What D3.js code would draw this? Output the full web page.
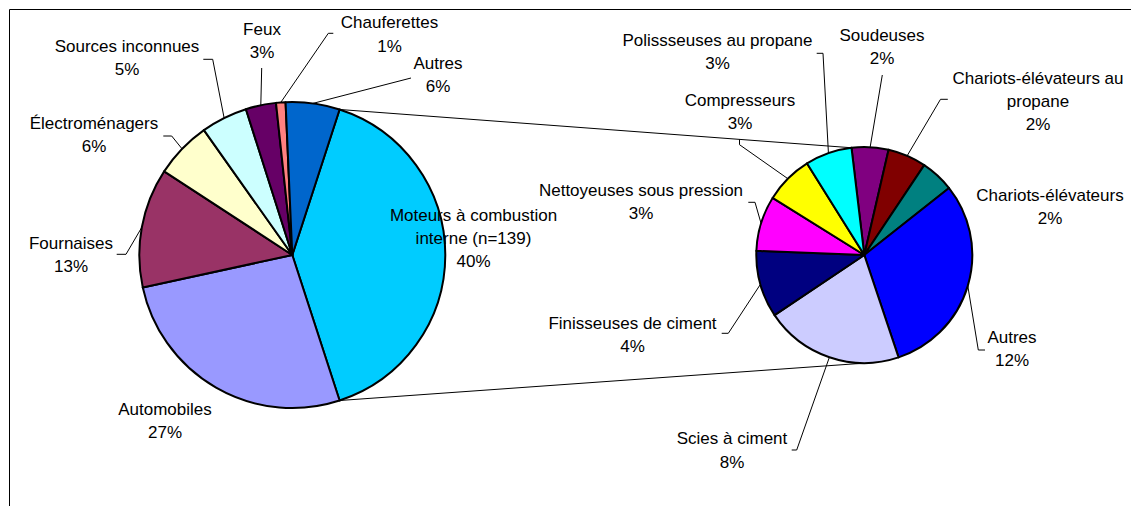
<!DOCTYPE html>
<html>
<head>
<meta charset="utf-8">
<script src="https://cdn.jsdelivr.net/npm/d3@7"></script>
<style>
  body { margin: 0; background: #fff; }
  svg text { font-family: "Liberation Sans", Arial, sans-serif; font-size: 17px; fill: #000; }
</style>
</head>
<body>
<svg id="chart" width="1131" height="506"></svg>
<script>
// main pie, first slice is the one split into the second pie
var mainNames = ["Moteurs à combustion\ninterne (n=139)", "Automobiles", "Fournaises", "Électroménagers",
                 "Sources inconnues", "Feux", "Chauferettes", "Autres"];
var mainValues = [40.0, 26.6, 12.6, 6.0, 4.9, 3.2, 1.0, 5.7];
var mainColors = ["#00CCFF", "#9999FF", "#993366", "#FFFFCC", "#CCFFFF", "#660066", "#FF8080", "#0066CC"];

// detail of "Moteurs à combustion interne" (share of the whole)
var subNames = ["Soudeuses", "Chariots-élévateurs au\npropane", "Chariots-élévateurs", "Autres",
                "Scies à ciment", "Finisseuses de ciment", "Nettoyeuses sous pression",
                "Compresseurs", "Polissseuses au propane"];
var subValues = [2.2, 2.3, 2.0, 12.2, 8.3, 4.0, 3.3, 2.9, 2.8];
var subColors = ["#800080", "#800000", "#008080", "#0000FF", "#CCCCFF", "#000080", "#FF00FF", "#FFFF00", "#00FFFF"];

// label placement: text centre x, first baseline y, leader points on the label side
var mainLabelPos = [
    {x: 473.5, y: 220.5, lead: null},
    {x: 165, y: 415, lead: null},
    {x: 71, y: 248.5, lead: [[116.7, 254.3], [126, 254.3]]},
    {x: 94, y: 128.5, lead: [[163.3, 136], [171.7, 136]]},
    {x: 127, y: 52, lead: [[203.3, 59.3], [212.7, 59.3]]},
    {x: 262, y: 35, lead: [[261.7, 68]]},
    {x: 389.5, y: 28.3, lead: [[333.3, 33.3], [328.3, 33.3]]},
    {x: 438, y: 68.5, lead: [[411, 78]]}
];
var subLabelPos = [
    {x: 882, y: 41, lead: [[882.3, 75]]},
    {x: 1038, y: 83.5, lead: [[947.8, 99.3], [940.5, 99.3]]},
    {x: 1050, y: 201, lead: null},
    {x: 1012, y: 343, lead: [[985, 350], [978.3, 350]]},
    {x: 732, y: 444.3, lead: [[791.7, 450], [796.7, 450]]},
    {x: 632.5, y: 328.7, lead: [[721.7, 333.3], [728.3, 333.3]]},
    {x: 641, y: 196, lead: [[748.3, 202.3], [755, 202.3]]},
    {x: 740, y: 105.5, lead: [[739.5, 139.3], [739.5, 144.7]]},
    {x: 717.5, y: 46, lead: [[816.7, 53.3], [823, 53.3]]}
];

var svg = d3.select("#chart");
var lineH = 23.3;
var total = d3.sum(mainValues);

var big = {cx: 292.3, cy: 255, r: 153};
var small = {cx: 864.3, cy: 255, r: 108};

// split slice centred on 3 o'clock
var splitShare = mainValues[0] / total;
var mainStart = Math.PI / 2 - splitShare * Math.PI;
var subStart = -6.8 * Math.PI / 180;

function onCircle(c, a) {
    return [c.cx + c.r * Math.sin(a), c.cy - c.r * Math.cos(a)];
}

// chart area frame
svg.append("path")
    .attr("d", "M9.5,506V9.5H1131")
    .attr("fill", "none")
    .attr("stroke", "#000")
    .attr("stroke-width", 1);

var mainArcs = d3.pie().sort(null).value(d => d)
    .startAngle(mainStart).endAngle(mainStart + 2 * Math.PI)(mainValues);
var subArcs = d3.pie().sort(null).value(d => d)
    .startAngle(subStart).endAngle(subStart + 2 * Math.PI)(subValues);

// connector lines between the pies
var split = mainArcs[0];
var connectors = [
    [onCircle(big, split.startAngle), onCircle(small, subStart)],
    [onCircle(big, split.endAngle), onCircle(small, subStart + Math.PI)]
];
svg.selectAll(".connector")
    .data(connectors)
    .enter()
    .append("line")
    .attr("class", "connector")
    .attr("x1", d => d[0][0]).attr("y1", d => d[0][1])
    .attr("x2", d => d[1][0]).attr("y2", d => d[1][1])
    .attr("stroke", "#000")
    .attr("stroke-width", 1);

function drawPie(c, arcs, colors, cls) {
    var arc = d3.arc().innerRadius(0).outerRadius(c.r);
    svg.append("g")
        .attr("transform", "translate(" + c.cx + "," + c.cy + ")")
        .selectAll("path." + cls)
        .data(arcs)
        .enter()
        .append("path")
        .attr("class", cls)
        .attr("d", arc)
        .attr("fill", (d, i) => colors[i])
        .attr("stroke", "#000")
        .attr("stroke-width", 2)
        .attr("stroke-linejoin", "round");
}

drawPie(big, mainArcs, mainColors, "main");
drawPie(small, subArcs, subColors, "sub");

var line = d3.line();

function drawLabels(c, arcs, names, pos) {
    arcs.forEach(function(d, i) {
        var p = pos[i];
        if (p.lead) {
            var mid = (d.startAngle + d.endAngle) / 2;
            var pts = p.lead.concat([onCircle(c, mid)]);
            svg.append("path")
                .attr("d", line(pts))
                .attr("fill", "none")
                .attr("stroke", "#000")
                .attr("stroke-width", 1);
        }
        var rows = names[i].split("\n").concat([Math.round(d.value / total * 100) + "%"]);
        var t = svg.append("text")
            .attr("text-anchor", "middle");
        t.selectAll("tspan")
            .data(rows)
            .enter()
            .append("tspan")
            .attr("x", p.x)
            .attr("y", (r, k) => p.y + k * lineH)
            .text(r => r);
    });
}

drawLabels(big, mainArcs, mainNames, mainLabelPos);
drawLabels(small, subArcs, subNames, subLabelPos);
</script>
</body>
</html>
